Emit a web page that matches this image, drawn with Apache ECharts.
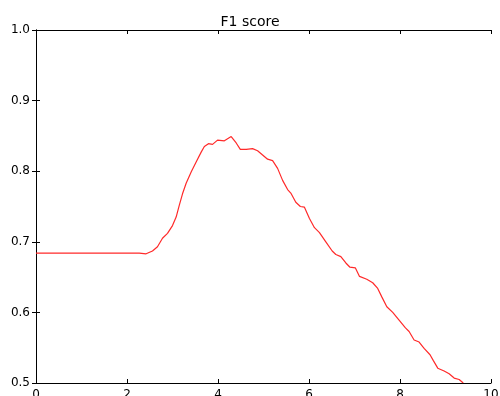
<!DOCTYPE html>
<html>
<head>
<meta charset="utf-8">
<script src="https://cdn.jsdelivr.net/npm/echarts@6/dist/echarts.min.js"></script>
<style>
  html, body { margin: 0; padding: 0; background: #fff; }
  #f1 { width: 500px; height: 396px; }
</style>
</head>
<body>
<div id="f1"></div>
<script>
// F1 score curve
var xs = [0, 2.27, 2.42, 2.56, 2.67, 2.78, 2.89, 3.0, 3.08, 3.15, 3.22, 3.30, 3.41, 3.52, 3.63, 3.70,
  3.79, 3.88, 3.99, 4.14, 4.29, 4.40, 4.49, 4.62, 4.76, 4.87, 4.98, 5.09, 5.20, 5.31, 5.42, 5.53,
  5.60, 5.71, 5.81, 5.90, 6.01, 6.12, 6.23, 6.37, 6.51, 6.59, 6.70, 6.81, 6.90, 7.02, 7.11, 7.27,
  7.40, 7.51, 7.60, 7.71, 7.84, 7.98, 8.12, 8.20, 8.31, 8.42, 8.53, 8.66, 8.73, 8.83, 8.97, 9.08,
  9.19, 9.30, 9.39];
var f1 = [0.684, 0.684, 0.683, 0.687, 0.693, 0.705, 0.712, 0.723, 0.735, 0.752, 0.768, 0.783, 0.799, 0.813, 0.827, 0.835,
  0.839, 0.838, 0.844, 0.843, 0.849, 0.840, 0.831, 0.831, 0.832, 0.829, 0.823, 0.817, 0.815, 0.804, 0.787, 0.774,
  0.769, 0.756, 0.750, 0.749, 0.733, 0.720, 0.713, 0.700, 0.687, 0.682, 0.679, 0.670, 0.664, 0.663, 0.651, 0.647,
  0.642, 0.634, 0.622, 0.608, 0.600, 0.589, 0.578, 0.573, 0.561, 0.558, 0.549, 0.540, 0.532, 0.521, 0.517, 0.513,
  0.507, 0.505, 0.500];
var xTicks = [0, 2, 4, 6, 8, 10];
var yTicks = [0.5, 0.6, 0.7, 0.8, 0.9, 1.0];

var chart = echarts.init(document.getElementById('f1'));
var pts = [];
for (var i = 0; i < xs.length; i++) {
  pts.push([xs[i], f1[i]]);
}
var font = 'DejaVu Sans';
var frame = { show: true, lineStyle: { color: '#000', width: 1 } };
var tick = { show: true, inside: true, length: 4, lineStyle: { color: '#000' } };

option = {
  animation: false,
  title: {
    text: 'F1 score',
    left: 'center',
    top: 10,
    textStyle: { fontFamily: font, fontSize: 14, fontWeight: 'normal', color: '#000' }
  },
  grid: { left: 36, right: 9, top: 30, bottom: 13, outerBoundsMode: 'none', containLabel: false },
  xAxis: [
    {
      type: 'value', min: 0, max: 10, interval: 2,
      axisLine: frame, axisTick: tick, splitLine: { show: false },
      axisLabel: { margin: 6, fontFamily: font, fontSize: 12, color: '#000',
        formatter: function (v) { return xTicks.indexOf(v) >= 0 ? String(v) : ''; } }
    },
    {
      type: 'value', position: 'top', min: 0, max: 10, interval: 2,
      axisLine: frame, axisTick: tick, splitLine: { show: false }, axisLabel: { show: false }
    }
  ],
  yAxis: [
    {
      type: 'value', min: 0.5, max: 1.0, interval: 0.1,
      axisLine: frame, axisTick: tick, splitLine: { show: false },
      axisLabel: { margin: 6, fontFamily: font, fontSize: 12, color: '#000',
        formatter: function (v) { return v.toFixed(1); } }
    },
    {
      type: 'value', position: 'right', min: 0.5, max: 1.0, interval: 0.1,
      axisLine: frame, axisTick: tick, splitLine: { show: false }, axisLabel: { show: false }
    }
  ],
  series: [
    {
      name: 'F1 score',
      type: 'line',
      data: pts,
      showSymbol: false,
      clip: true,
      lineStyle: { color: '#ff2a2a', width: 1.2 }
    }
  ]
};
chart.setOption(option);
</script>
</body>
</html>
